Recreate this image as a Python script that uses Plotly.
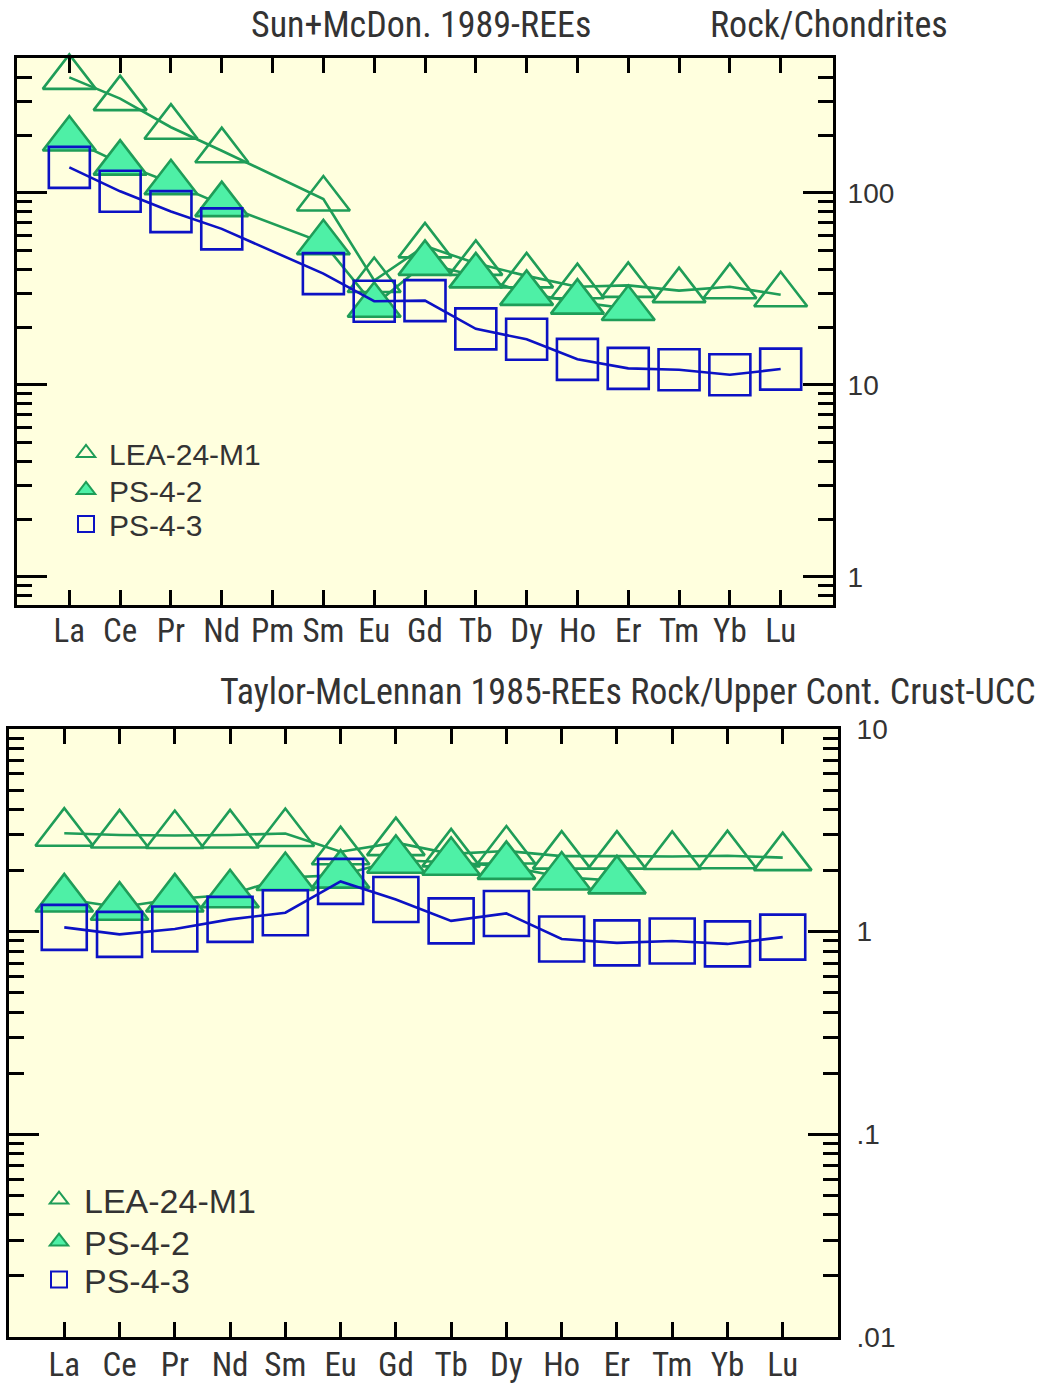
import plotly.graph_objects as go

# ---------------- data ----------------
elements_chon = ["La", "Ce", "Pr", "Nd", "Pm", "Sm", "Eu", "Gd", "Tb", "Dy", "Ho", "Er", "Tm", "Yb", "Lu"]
lea_chon = [400, 310, 220, 166, None, 93, 35, 53, 43, 37, 32.5, 33, 31, 32.5, 29.5]
ps42_chon = [191, 143, 113, 87, None, 55, 26, 43, 37, 30, 27, 25, None, None, None]
ps43_chon = [136, 102, 80, 65, None, 38, 27.3, 27.5, 19.6, 17.3, 13.6, 12.2, 12.0, 11.3, 12.1]

elements_ucc = ["La", "Ce", "Pr", "Nd", "Sm", "Eu", "Gd", "Tb", "Dy", "Ho", "Er", "Tm", "Yb", "Lu"]
lea_ucc = [3.06, 3.0, 2.98, 3.0, 3.05, 2.48, 2.75, 2.42, 2.5, 2.36, 2.36, 2.35, 2.37, 2.32]
ps42_ucc = [1.45, 1.32, 1.45, 1.52, 1.85, 1.9, 2.25, 2.2, 2.1, 1.86, 1.78, None, None, None]
ps43_ucc = [1.05, 0.97, 1.03, 1.15, 1.24, 1.77, 1.44, 1.13, 1.23, 0.92, 0.88, 0.90, 0.87, 0.94]

sample_names = ["LEA-24-M1", "PS-4-2", "PS-4-3"]

chon_ticks = [1, 10, 100]
chon_ticktext = ["1", "10", "100"]
ucc_ticks = [0.01, 0.1, 1, 10]
ucc_ticktext = [".01", ".1", "1", "10"]

# ---------------- style ----------------
GREEN = "#1f9d58"
FILL = "#4ef0a6"
BLUE = "#0c12c4"
BG = "#FFFFDE"
TXT = "#333333"
NARROW = "Liberation Sans Narrow, Arial Narrow, Roboto Condensed, DejaVu Sans Condensed, Liberation Sans, Arial"
REG = "Liberation Sans, Arial, sans-serif"

W, H = 1050, 1384


def minor_vals(lo_exp, hi_exp):
    out = []
    for e in range(lo_exp, hi_exp + 1):
        for k in range(2, 10):
            out.append(k * 10 ** e)
    return out


fig = go.Figure()

styles = [
    dict(symbol="triangle-up-open", color=GREEN, line=GREEN),
    dict(symbol="triangle-up", color=FILL, line=GREEN),
    dict(symbol="square-open", color=BLUE, line=BLUE),
]

panels = [
    dict(x=elements_chon, ys=[lea_chon, ps42_chon, ps43_chon], xa="x", ya="y",
         tri=46, sq=41, legends=["legend", "legend2", "legend3"]),
    dict(x=elements_ucc, ys=[lea_ucc, ps42_ucc, ps43_ucc], xa="x2", ya="y2",
         tri=50, sq=45, legends=["legend4", "legend5", "legend6"]),
]

for p in panels:
    for i, (yv, st) in enumerate(zip(p["ys"], styles)):
        size = p["sq"] if "square" in st["symbol"] else p["tri"]
        fig.add_trace(go.Scatter(
            x=p["x"], y=yv, xaxis=p["xa"], yaxis=p["ya"],
            mode="lines+markers", connectgaps=True, showlegend=False, cliponaxis=False,
            line=dict(color=st["line"], width=2.6),
            marker=dict(symbol=st["symbol"], size=size, color=st["color"],
                        line=dict(color=st["line"], width=2.6)),
            name=sample_names[i],
        ))
    # legend-only traces
    for i, st in enumerate(styles):
        fig.add_trace(go.Scatter(
            x=[None], y=[None], xaxis=p["xa"], yaxis=p["ya"], mode="markers",
            name=sample_names[i], legend=p["legends"][i], showlegend=True,
            marker=dict(symbol=st["symbol"], size=16, color=st["color"],
                        line=dict(color=st["line"], width=2)),
        ))

# domains (paper)
top_x = [17 / W, 833 / W]
top_y = [1 - 605 / H, 1 - 58 / H]
bot_x = [9 / W, 838 / W]
bot_y = [1 - 1337 / H, 1 - 729 / H]

xcommon = dict(type="category", showline=True, linewidth=3, linecolor="black", mirror="allticks",
               ticks="inside", ticklen=15, tickwidth=3, tickcolor="black", showgrid=False,
               zeroline=False, fixedrange=True)
ycommon = dict(type="log", side="right", showline=True, linewidth=3, linecolor="black",
               mirror="allticks", ticks="inside", ticklen=30, tickwidth=3, tickcolor="black",
               showgrid=False, zeroline=False, tickmode="array",
               tickfont=dict(family=REG, size=28, color=TXT))

fig.update_layout(
    width=W, height=H, margin=dict(l=0, r=0, t=0, b=0, autoexpand=False),
    paper_bgcolor="white", plot_bgcolor=BG,
    xaxis=dict(xcommon, domain=top_x, anchor="y", range=[-1.03, 15.03],
               categoryorder="array", categoryarray=elements_chon,
               tickfont=dict(family=NARROW, size=33, color=TXT), ticklabelstandoff=-6),
    yaxis=dict(ycommon, domain=top_y, anchor="x", range=[-0.146, 2.703],
               tickvals=chon_ticks, ticktext=chon_ticktext, ticklabelstandoff=6,
               minor=dict(tickmode="array", tickvals=minor_vals(-1, 2), ticks="inside",
                          ticklen=15, tickwidth=3, tickcolor="black", showgrid=False)),
    xaxis2=dict(xcommon, domain=bot_x, anchor="y2", range=[-1, 14],
                categoryorder="array", categoryarray=elements_ucc,
                tickfont=dict(family=NARROW, size=33, color=TXT), ticklabelstandoff=-4),
    yaxis2=dict(ycommon, domain=bot_y, anchor="x2", range=[-2, 1],
                tickvals=ucc_ticks, ticktext=ucc_ticktext, ticklabelstandoff=10,
                minor=dict(tickmode="array", tickvals=minor_vals(-3, 1), ticks="inside",
                           ticklen=15, tickwidth=3, tickcolor="black", showgrid=False)),
)

# legends
top_leg_y = [453, 490, 524]
bot_leg_y = [1200, 1242, 1280]
for i, yy in enumerate(top_leg_y):
    key = "legend" if i == 0 else f"legend{i + 1}"
    fig.update_layout({key: dict(x=63 / W, y=1 - yy / H, xanchor="left", yanchor="middle",
                                 bgcolor="rgba(0,0,0,0)", borderwidth=0, itemwidth=36,
                                 font=dict(family=REG, size=30, color=TXT))})
for i, yy in enumerate(bot_leg_y):
    key = f"legend{i + 4}"
    fig.update_layout({key: dict(x=34 / W, y=1 - yy / H, xanchor="left", yanchor="middle",
                                 bgcolor="rgba(0,0,0,0)", borderwidth=0, itemwidth=40,
                                 font=dict(family=REG, size=34, color=TXT))})

# titles
fig.add_annotation(text="Sun+McDon. 1989-REEs", xref="paper", yref="paper",
                   x=421 / W, y=1 - 25 / H, xanchor="center", yanchor="middle", showarrow=False,
                   font=dict(family=NARROW, size=36, color=TXT))
fig.add_annotation(text="Rock/Chondrites", xref="paper", yref="paper",
                   x=829 / W, y=1 - 25 / H, xanchor="center", yanchor="middle", showarrow=False,
                   font=dict(family=NARROW, size=36, color=TXT))
fig.add_annotation(text="Taylor-McLennan 1985-REEs Rock/Upper Cont. Crust-UCC", xref="paper", yref="paper",
                   x=628 / W, y=1 - 692 / H, xanchor="center", yanchor="middle", showarrow=False,
                   font=dict(family=NARROW, size=36, color=TXT))

fig.write_html("out.html")
